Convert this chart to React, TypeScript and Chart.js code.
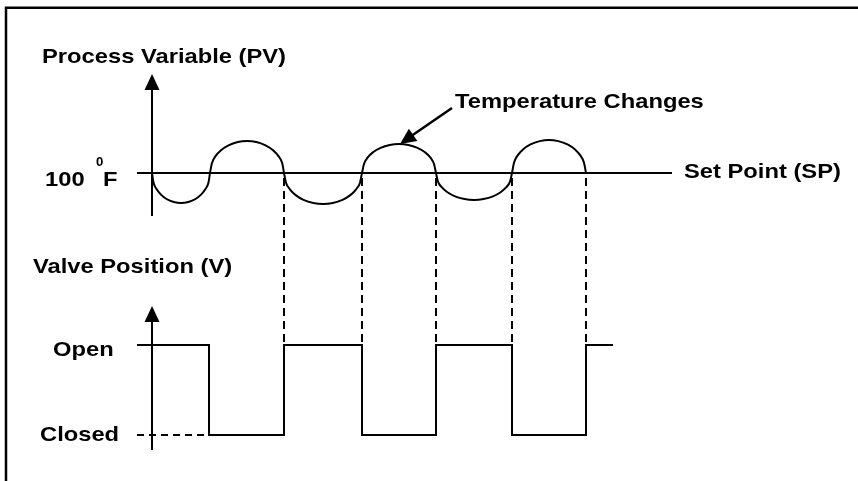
import React, { useEffect, useRef } from "react";
import { Chart, registerables } from "chart.js";

Chart.register(...registerables);

// Diagram units: x = time axis (0..858), y = vertical position (0 top .. 481 bottom)
const FRAME_X = [6, 6, 858];
const FRAME_Y = [481, 7.7, 7.7];

const PV_AXIS_X = [152, 152];
const PV_AXIS_Y = [88, 216];

const SP_X = [137, 672];
const SP_Y = [173, 173];

// Process variable (temperature) oscillating around the set point
const PV_X = [
  152, 153.5, 156.4, 160.7, 166.5, 173.8, 181, 188.3, 195.5, 201.3, 205.6, 208.5,
  210, 212, 215.5, 221, 228.5, 237.8, 247, 256.3, 265.5, 273, 278.5, 282.2,
  284, 286, 289.9, 295.7, 303.5, 313.3, 323, 332.8, 342.5, 350.3, 356.1, 360,
  362, 364, 367.5, 373, 380.5, 389.8, 399, 408.3, 417.5, 425, 430.5, 434,
  436, 437.9, 441.7, 447.4, 455, 464.5, 474, 483.5, 493, 500.6, 506.3, 510.1,
  512, 514, 517.5, 523, 530.5, 539.8, 549, 558.3, 567.5, 575, 580.5, 584,
  586,
];
const PV_Y = [
  173, 182.4, 188.8, 194.4, 199, 202, 203, 202, 199, 194.4, 188.8, 182.4,
  173, 163, 156.1, 150.2, 145.3, 142, 141, 142, 145.3, 150.2, 156.1, 163,
  173, 182.7, 189.3, 195.1, 199.8, 203, 204, 203, 199.8, 195.1, 189.3, 182.7,
  173, 164, 157.7, 152.3, 147.9, 144.9, 144, 144.9, 147.9, 152.3, 157.7, 164,
  173, 181.4, 187.2, 192.3, 196.4, 199.1, 200, 199.1, 196.4, 192.3, 187.2, 181.4,
  173, 162.7, 155.6, 149.4, 144.4, 141.1, 140, 141.1, 144.4, 149.4, 155.6, 162.7,
  173,
];

// Dashed guide lines where PV crosses the set point
const GUIDE_X = [284, 362, 436, 512, 586];
const GUIDE_TOP = 178;
const GUIDE_BOTTOM = 346;

const V_AXIS_X = [152, 152];
const V_AXIS_Y = [320, 450];

// Valve position: Open / Closed levels
const OPEN_LEVEL = 345;
const CLOSED_LEVEL = 435;
const VALVE_X = [137, 209, 209, 284, 284, 362, 362, 436, 436, 512, 512, 586, 586, 613];
const VALVE_STATE = [1, 1, 0, 0, 1, 1, 0, 0, 1, 1, 0, 0, 1, 1];

const CLOSED_DASH_X = [137, 209];

const TEMP_ARROW_X = [452, 404];
const TEMP_ARROW_Y = [108, 141];

const LABELS = [
  { text: "Process Variable (PV)", x: 42, y: 63 },
  { text: "100", x: 45, y: 186 },
  { text: "F", x: 103, y: 186 },
  { text: "Temperature Changes", x: 455, y: 108 },
  { text: "Set Point (SP)", x: 684, y: 178 },
  { text: "Valve Position (V)", x: 33, y: 273 },
  { text: "Open", x: 53, y: 356 },
  { text: "Closed", x: 40, y: 441 },
];
const SUPER_LABEL = { text: "0", x: 96, y: 166 };

const ARROWS = [
  { tipX: 152, tipY: 74, fromX: 152, fromY: 100 },
  { tipX: 152, tipY: 306, fromX: 152, fromY: 330 },
  { tipX: 400, tipY: 144, fromX: 452, fromY: 108 },
];

const toPts = (xs: number[], ys: number[]) => xs.map((x, i) => ({ x, y: ys[i] }));

export default function App() {
  const ref = useRef<HTMLCanvasElement | null>(null);

  useEffect(() => {
    if (!ref.current) return;
    const guidePts: any[] = [];
    GUIDE_X.forEach((gx) => {
      guidePts.push({ x: gx, y: GUIDE_TOP }, { x: gx, y: GUIDE_BOTTOM }, { x: gx, y: null });
    });
    const valvePts = VALVE_X.map((x, i) => ({ x, y: VALVE_STATE[i] ? OPEN_LEVEL : CLOSED_LEVEL }));

    const base = {
      borderColor: "#000",
      pointRadius: 0,
      tension: 0,
      fill: false,
      clip: false as any,
    };

    const decor = {
      id: "decor",
      afterDatasetsDraw(chart: any) {
        const ctx = chart.ctx;
        const xs = chart.scales.x;
        const ys = chart.scales.y;
        const px = (v: number) => xs.getPixelForValue(v);
        const py = (v: number) => ys.getPixelForValue(v);
        ctx.save();
        ctx.fillStyle = "#000";
        ARROWS.forEach((a) => {
          const tx = px(a.tipX), ty = py(a.tipY);
          const fx = px(a.fromX), fy = py(a.fromY);
          const ang = Math.atan2(ty - fy, tx - fx);
          const len = 16, half = 7.5;
          const bx = tx - Math.cos(ang) * len;
          const by = ty - Math.sin(ang) * len;
          ctx.beginPath();
          ctx.moveTo(tx, ty);
          ctx.lineTo(bx + Math.sin(ang) * half, by - Math.cos(ang) * half);
          ctx.lineTo(bx - Math.sin(ang) * half, by + Math.cos(ang) * half);
          ctx.closePath();
          ctx.fill();
        });
        ctx.textBaseline = "alphabetic";
        ctx.textAlign = "left";
        ctx.font = "bold 21px 'Liberation Sans', Arial, sans-serif";
        LABELS.forEach((l) => {
          ctx.save();
          ctx.translate(px(l.x), py(l.y));
          ctx.scale(1.13, 1);
          ctx.fillText(l.text, 0, 0);
          ctx.restore();
        });
        ctx.font = "bold 12px 'Liberation Sans', Arial, sans-serif";
        ctx.save();
        ctx.translate(px(SUPER_LABEL.x), py(SUPER_LABEL.y));
        ctx.scale(1.1, 1);
        ctx.fillText(SUPER_LABEL.text, 0, 0);
        ctx.restore();
        ctx.restore();
      },
    };

    const chart = new Chart(ref.current, {
      type: "line",
      data: {
        datasets: [
          { ...base, data: toPts(FRAME_X, FRAME_Y), borderWidth: 2.5 },
          { ...base, data: toPts(PV_AXIS_X, PV_AXIS_Y), borderWidth: 2 },
          { ...base, data: toPts(SP_X, SP_Y), borderWidth: 2 },
          { ...base, data: toPts(PV_X, PV_Y), borderWidth: 2, cubicInterpolationMode: "monotone" } as any,
          { ...base, data: guidePts, borderWidth: 2, borderDash: [8, 5], spanGaps: false },
          { ...base, data: toPts(V_AXIS_X, V_AXIS_Y), borderWidth: 2 },
          { ...base, data: valvePts, borderWidth: 2 },
          {
            ...base,
            data: CLOSED_DASH_X.map((x) => ({ x, y: CLOSED_LEVEL })),
            borderWidth: 2,
            borderDash: [7, 5],
          },
          { ...base, data: toPts(TEMP_ARROW_X, TEMP_ARROW_Y), borderWidth: 2.5 },
        ],
      },
      options: {
        animation: false,
        responsive: false,
        maintainAspectRatio: false,
        parsing: false as any,
        normalized: true,
        layout: { padding: 0 },
        events: [],
        plugins: { legend: { display: false }, tooltip: { enabled: false }, title: { display: false } },
        scales: {
          x: { type: "linear", min: 0, max: 858, display: false },
          y: { type: "linear", min: 0, max: 481, reverse: true, display: false },
        },
      },
      plugins: [decor],
    });
    return () => chart.destroy();
  }, []);

  return (
    <div style={{ position: "absolute", left: 0, top: 0, width: 858, height: 481, background: "#fff" }}>
      <canvas ref={ref} width={858} height={481} style={{ display: "block", width: 858, height: 481 }} />
    </div>
  );
}
